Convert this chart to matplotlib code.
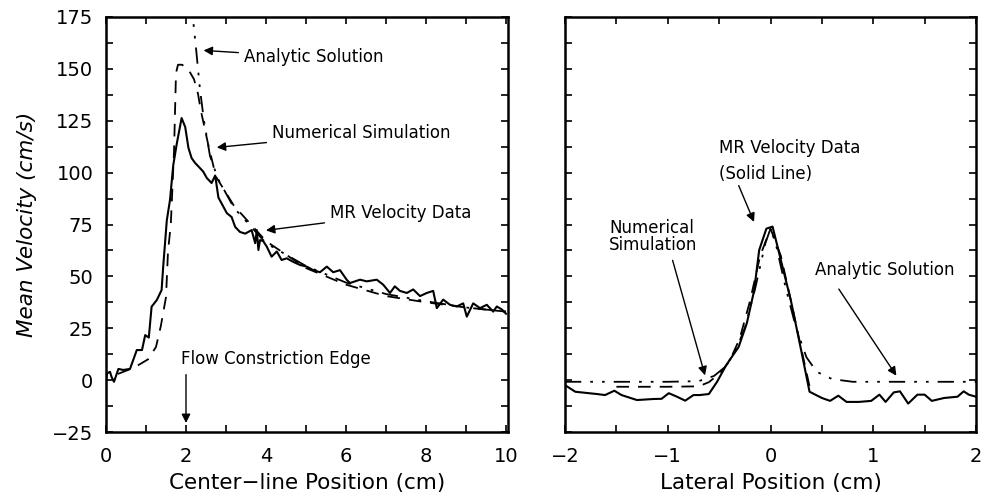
import numpy as np
import matplotlib.pyplot as plt
from matplotlib.ticker import MultipleLocator

# ---- left panel: centre-line velocity ----
cl_x = [0.0, 0.03, 0.1, 0.14, 0.2, 0.31, 0.43, 0.6, 0.77, 0.9, 0.98, 1.07, 1.14,
        1.27, 1.39, 1.43, 1.52, 1.6, 1.68, 1.77, 1.89, 1.98, 2.06, 2.14, 2.23,
        2.31, 2.43, 2.52, 2.64, 2.73, 2.81, 2.9, 3.02, 3.14, 3.23, 3.35, 3.48,
        3.64, 3.73, 3.77, 3.81, 3.85, 3.93, 4.02, 4.14, 4.27, 4.39, 4.52, 4.68,
        4.85, 5.02, 5.18, 5.35, 5.52, 5.68, 5.85, 6.02, 6.1, 6.35, 6.52, 6.77,
        6.93, 7.1, 7.22, 7.35, 7.52, 7.68, 7.85, 8.02, 8.18, 8.27, 8.43, 8.6,
        8.77, 8.93, 9.02, 9.18, 9.35, 9.52, 9.68, 9.77, 9.9, 10.0]
cl_mr = [0.5, 3.3, 4.0, 1.5, -0.8, 5.4, 4.9, 5.4, 14.5, 14.5, 21.7, 20.5, 35.4,
         38.6, 43.4, 54.7, 77, 86.8, 103.4, 114, 126.3, 122, 112, 107, 104.6,
         103, 100.5, 97.4, 95, 98.6, 88, 84.8, 80.5, 78.6, 73.8, 71.4, 70.6,
         72.3, 66, 72.3, 62.7, 67.5, 67, 64.3, 59.5, 62, 57.9, 58.7, 57,
         55.5, 54.7, 53, 52, 54.7, 52, 53, 48.3, 46.8, 48.4, 47.6, 48.4,
         46, 42, 45.2, 43, 42, 43.7, 40.5, 42, 43, 34.7, 38.8, 36.3,
         35.5, 37, 30.6, 37, 34.7, 36.3, 33, 35.5, 34, 32]

num_x = [0.3, 0.7, 1.05, 1.25, 1.37, 1.5, 1.55, 1.62, 1.7, 1.75, 1.8, 1.9, 2.05,
         2.2, 2.3, 2.37, 2.55, 2.75, 3.2, 4.0, 5.0, 6.0, 7.0, 8.0, 9.0, 10.0]
num_v = [3, 6, 10, 16, 26, 40, 62, 75, 110, 148, 152, 152, 150,
         145, 138, 130, 114, 98, 84, 67, 54, 46, 40.5, 37.5, 35, 33]

ana_x = [2.12, 2.17, 2.25, 2.35, 2.45, 2.6, 2.8, 3.2, 4.0, 5.0, 6.0, 7.0, 8.0, 9.0, 10.0]
ana_v = [185, 175, 160, 140, 125, 108, 97, 83, 66, 55, 47, 41.5, 38, 35, 33]

# ---- right panel: lateral profile ----
lat_x = [-2.0, -1.9, -1.69, -1.61, -1.52, -1.45, -1.3, -1.14, -1.06, -0.99,
         -0.91, -0.83, -0.75, -0.69, -0.6, -0.52, -0.43, -0.31, -0.23, -0.16,
         -0.11, -0.04, 0.02, 0.1, 0.2, 0.3, 0.38, 0.5, 0.58, 0.66, 0.74, 0.86,
         0.98, 1.06, 1.12, 1.2, 1.26, 1.34, 1.43, 1.5, 1.57, 1.69, 1.82, 1.88,
         1.93, 2.0]
lat_mr = [-2.4, -5.6, -6.7, -7.2, -5.1, -7.2, -9.6, -9.1, -9.0, -6.3,
          -8.0, -9.9, -7.2, -7.2, -6.7, -0.8, 7.3, 16, 27.5, 43,
          62.7, 73, 74, 58, 38, 14, -5.6, -8.6, -10, -7.5, -10.5, -10.5,
          -10, -7, -10.5, -5.9, -5.4, -11.3, -7, -7, -10, -8.6, -8, -5.4,
          -7, -8]

lat_num_x = [-1.5, -1.0, -0.7, -0.6, -0.5, -0.4, -0.3, -0.2, -0.1, 0.0, 0.1, 0.2, 0.3, 0.38]
lat_num_v = [-3.2, -3.2, -3, -1, 3, 9, 20, 38, 60, 73, 60, 38, 15, -3]

lat_ana_x = [-2.0, -1.0, -0.7, -0.55, -0.45, -0.35, -0.25, -0.15, -0.05, 0.0,
             0.05, 0.15, 0.25, 0.35, 0.45, 0.6, 0.8, 1.2, 2.0]
lat_ana_v = [-0.8, -0.8, -0.5, 2, 6, 13, 25, 44, 66, 73,
             66, 44, 25, 11, 4, 0.5, -0.8, -0.8, -0.8]

dash = (0, (7, 5))
dashdot = (0, (9, 5, 1.5, 5, 1.5, 5))

fig = plt.figure(figsize=(9.89, 5.01), dpi=100)
ax1 = fig.add_axes([106 / 989, 1 - 432 / 501, 402 / 989, 415 / 501])
ax2 = fig.add_axes([565 / 989, 1 - 432 / 501, 411 / 989, 415 / 501])

for ax in (ax1, ax2):
    ax.set_ylim(-25, 175)
    ax.yaxis.set_major_locator(MultipleLocator(25))
    ax.yaxis.set_minor_locator(MultipleLocator(12.5))
    ax.tick_params(which="both", direction="in", top=True, right=True,
                   length=5, width=1.2, labelsize=14)
    ax.tick_params(axis="x", pad=11)
    ax.tick_params(axis="y", pad=9)
    for s in ax.spines.values():
        s.set_linewidth(1.8)

ax1.plot(cl_x, cl_mr, color="black", lw=1.5)
ax1.plot(num_x, num_v, color="black", lw=1.3, linestyle=dash)
ax1.plot(ana_x, ana_v, color="black", lw=1.3, linestyle=dashdot)
ax1.set_xlim(0, 10.05)
ax1.xaxis.set_major_locator(MultipleLocator(2))
ax1.xaxis.set_minor_locator(MultipleLocator(1))
ax1.set_xlabel("Center\u2212line Position (cm)", fontsize=15.5, labelpad=5)
ax1.set_ylabel("Mean Velocity (cm/s)", fontsize=15.5, style="italic", labelpad=11)

arrow = dict(arrowstyle="-|>", color="black", lw=1.0, mutation_scale=13)
ax1.annotate("Analytic Solution", xy=(2.37, 159), xytext=(3.45, 155.5),
             fontsize=12, va="center", arrowprops=arrow)
ax1.annotate("Numerical Simulation", xy=(2.7, 112), xytext=(4.15, 119),
             fontsize=12, va="center", arrowprops=arrow)
ax1.annotate("MR Velocity Data", xy=(3.93, 72), xytext=(5.6, 80.5),
             fontsize=12, va="center", arrowprops=arrow)
ax1.text(1.88, 10, "Flow Constriction Edge", fontsize=12, va="center", ha="left")
ax1.annotate("", xy=(2.0, -22), xytext=(2.0, 4), arrowprops=arrow)

ax2.plot(lat_x, lat_mr, color="black", lw=1.5)
ax2.plot(lat_num_x, lat_num_v, color="black", lw=1.3, linestyle=dash)
ax2.plot(lat_ana_x, lat_ana_v, color="black", lw=1.3, linestyle=dashdot)
ax2.set_xlim(-2, 2)
ax2.xaxis.set_major_locator(MultipleLocator(1))
ax2.xaxis.set_minor_locator(MultipleLocator(0.5))
ax2.set_yticklabels([])
ax2.set_xlabel("Lateral Position (cm)", fontsize=15.5, labelpad=5)

ax2.text(-0.5, 112, "MR Velocity Data", fontsize=12, va="center", ha="left")
ax2.text(-0.5, 99.5, "(Solid Line)", fontsize=12, va="center", ha="left")
ax2.annotate("", xy=(-0.15, 75), xytext=(-0.32, 95), arrowprops=arrow)
ax2.text(-1.57, 73.5, "Numerical", fontsize=12, va="center", ha="left")
ax2.text(-1.57, 65, "Simulation", fontsize=12, va="center", ha="left")
ax2.annotate("", xy=(-0.63, 1), xytext=(-0.96, 59), arrowprops=arrow)
ax2.text(0.43, 53, "Analytic Solution", fontsize=12, va="center", ha="left")
ax2.annotate("", xy=(1.24, 1), xytext=(0.65, 45), arrowprops=arrow)

fig.savefig("out.png", dpi=100)
